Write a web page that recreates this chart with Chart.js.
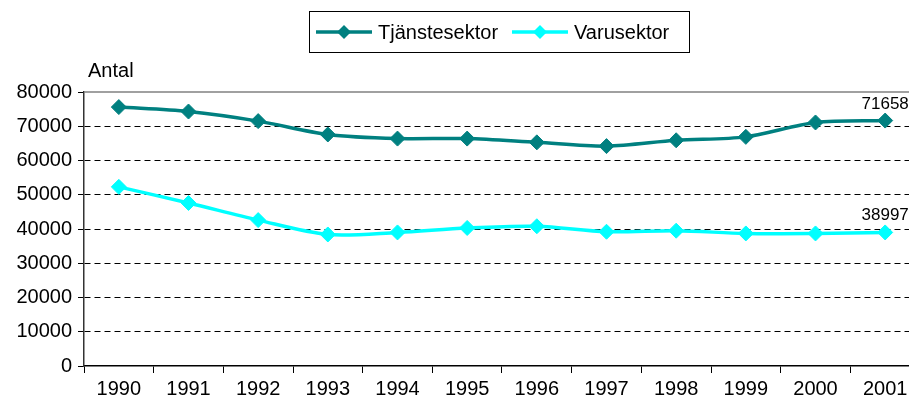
<!DOCTYPE html>
<html>
<head>
<meta charset="utf-8">
<script src="https://cdn.jsdelivr.net/npm/chart.js@4"></script>
<style>
  html, body { margin: 0; padding: 0; background: #fff; overflow: hidden; }
  #wrap { width: 909px; height: 405px; overflow: hidden; }
</style>
</head>
<body>
<div id="wrap"><canvas id="chart" width="1000" height="405"></canvas></div>
<script>
const years = ['1990', '1991', '1992', '1993', '1994', '1995', '1996', '1997', '1998', '1999', '2000', '2001'];
const tjanst = [75600, 74300, 71500, 67600, 66400, 66400, 65300, 64200, 65900, 66900, 71100, 71658];
const varu = [52300, 47600, 42600, 38400, 39000, 40300, 40800, 39200, 39500, 38700, 38700, 38997];
const yTicks = [0, 10000, 20000, 30000, 40000, 50000, 60000, 70000, 80000];

const font = 'Arial, "Liberation Sans", sans-serif';

// legend, axis caption, plot frame top line and end labels
const extras = {
    id: 'extras',
    afterDraw(chart) {
        const ctx = chart.ctx;
        const area = chart.chartArea;
        ctx.save();

        // top frame line of the plot area
        ctx.strokeStyle = '#808080';
        ctx.lineWidth = 1.5;
        ctx.beginPath();
        ctx.moveTo(area.left, area.top);
        ctx.lineTo(area.right, area.top);
        ctx.stroke();

        // "Antal"
        ctx.fillStyle = '#000';
        ctx.font = '20px ' + font;
        ctx.textAlign = 'left';
        ctx.textBaseline = 'alphabetic';
        ctx.fillText('Antal', area.left + 4, 77);

        // values at the last points
        ctx.font = '17px ' + font;
        ctx.textAlign = 'center';
        ctx.textBaseline = 'alphabetic';
        chart.data.datasets.forEach((ds, i) => {
            const pts = chart.getDatasetMeta(i).data;
            const p = pts[pts.length - 1];
            ctx.fillText(String(ds.data[ds.data.length - 1]), p.x, p.y - 12);
        });

        // legend box
        const bx = 309.5, by = 11.5, bw = 380, bh = 41;
        ctx.strokeStyle = '#000';
        ctx.lineWidth = 1;
        ctx.strokeRect(bx, by, bw, bh);
        const cy = by + bh / 2;
        const starts = [316, 512];
        ctx.font = '20px ' + font;
        ctx.textAlign = 'left';
        ctx.textBaseline = 'middle';
        chart.data.datasets.forEach((ds, i) => {
            const x0 = starts[i];
            ctx.strokeStyle = ds.borderColor;
            ctx.lineWidth = 3.5;
            ctx.beginPath();
            ctx.moveTo(x0, cy);
            ctx.lineTo(x0 + 56, cy);
            ctx.stroke();
            ctx.fillStyle = ds.borderColor;
            ctx.beginPath();
            ctx.moveTo(x0 + 28, cy - 7);
            ctx.lineTo(x0 + 35, cy);
            ctx.lineTo(x0 + 28, cy + 7);
            ctx.lineTo(x0 + 21, cy);
            ctx.closePath();
            ctx.fill();
            ctx.fillStyle = '#000';
            ctx.fillText(ds.label, x0 + 62, cy + 1);
        });
        ctx.restore();
    }
};

const ctx = document.getElementById('chart').getContext('2d');
new Chart(ctx, {
    type: 'line',
    data: {
        labels: years,
        datasets: [{
            label: 'Tjänstesektor',
            data: tjanst,
            borderColor: '#008080',
            backgroundColor: '#008080',
            borderWidth: 3.5,
            tension: 0.3,
            pointStyle: 'rectRot',
            pointRadius: 7.5,
            pointBorderWidth: 1
        }, {
            label: 'Varusektor',
            data: varu,
            borderColor: '#00FFFF',
            backgroundColor: '#00FFFF',
            borderWidth: 3.5,
            tension: 0.3,
            pointStyle: 'rectRot',
            pointRadius: 7.5,
            pointBorderWidth: 1
        }]
    },
    options: {
        responsive: false,
        animation: false,
        layout: { padding: { top: 92, right: 80, left: 0, bottom: 0 } },
        plugins: {
            legend: { display: false },
            tooltip: { enabled: false }
        },
        scales: {
            x: {
                offset: true,
                grid: {
                    offset: true,
                    drawOnChartArea: false,
                    drawTicks: true,
                    tickLength: 7,
                    color: '#000'
                },
                border: { color: '#000', width: 1.5 },
                ticks: {
                    color: '#000',
                    font: { family: font, size: 20 },
                    padding: 4,
                    maxRotation: 0
                },
                afterFit(scale) { scale.height = 39; }
            },
            y: {
                min: 0,
                max: 80000,
                afterBuildTicks(scale) {
                    scale.ticks = yTicks.map(v => ({ value: v }));
                },
                grid: {
                    color: c => (c.tick && (c.tick.value === 0 || c.tick.value === 80000)) ? 'rgba(0,0,0,0)' : '#000',
                    tickColor: '#000',
                    tickLength: 6,
                    tickBorderDash: []
                },
                border: { color: '#333', width: 1.5, dash: [6, 4] },
                ticks: {
                    color: '#000',
                    font: { family: font, size: 20 },
                    padding: 6,
                    callback: v => String(v)
                },
                afterFit(scale) { scale.width = 84; }
            }
        }
    },
    plugins: [extras]
});
</script>
</body>
</html>
